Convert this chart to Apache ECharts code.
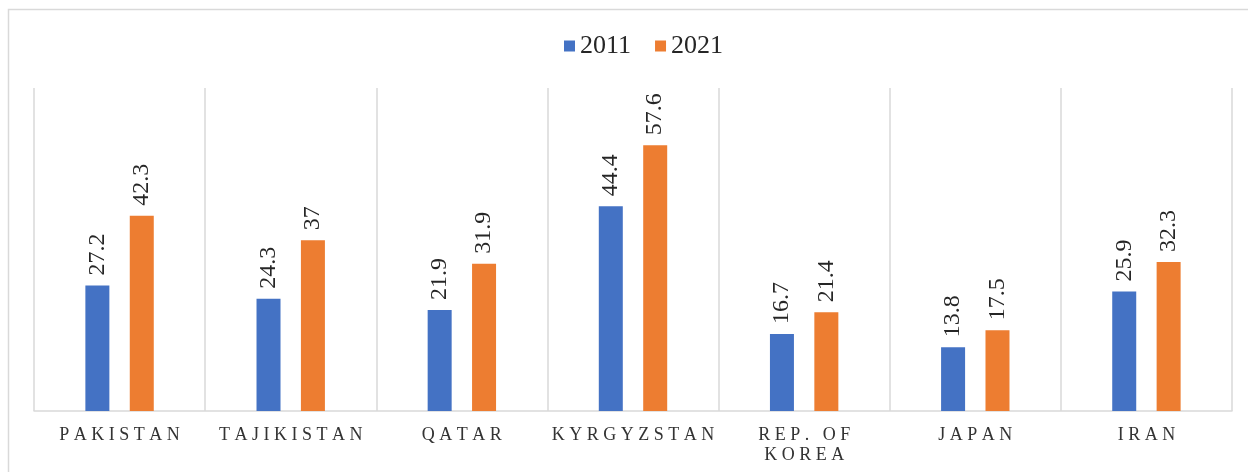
<!DOCTYPE html>
<html>
<head>
<meta charset="utf-8">
<script src="https://cdn.jsdelivr.net/npm/echarts@6/dist/echarts.min.js"></script>
<style>
html,body{margin:0;padding:0;background:#fff;}
#chart{width:1248px;height:472px;}
</style>
</head>
<body>
<div id="chart"></div>
<script>
const categories = ['PAKISTAN', 'TAJIKISTAN', 'QATAR', 'KYRGYZSTAN', 'REP. OF\nKOREA', 'JAPAN', 'IRAN'];
const seriesNames = ['2011', '2021'];
const values2011 = [27.2, 24.3, 21.9, 44.4, 16.7, 13.8, 25.9];
const values2021 = [42.3, 37, 31.9, 57.6, 21.4, 17.5, 32.3];

const FONT = '"Liberation Serif", "Times New Roman", serif';

function spaced(s) {
  return s.split('\n').map(line =>
    line.split(' ').map(w => w.split('').join(' ')).join('   ')
  ).join('\n');
}

const chart = echarts.init(document.getElementById('chart'));
const labelStyle = {
  show: true,
  position: 'top',
  rotate: 90,
  align: 'left',
  verticalAlign: 'middle',
  distance: 10,
  fontFamily: FONT,
  fontSize: 24,
  color: '#262626'
};
chart.setOption({
  animation: false,
  graphic: [{
    type: 'rect',
    shape: { x: 8.5, y: 9.5, width: 1260, height: 500 },
    style: { fill: 'none', stroke: '#d9d9d9', lineWidth: 1.5 },
    silent: true
  }],
  legend: {
    data: seriesNames,
    top: 28,
    left: 559,
    itemWidth: 11,
    itemHeight: 11,
    itemGap: 24,
    icon: 'rect',
    textStyle: { fontFamily: FONT, fontSize: 26, color: '#262626' }
  },
  grid: { left: 34, right: 16, top: 88, bottom: 61, containLabel: false },
  xAxis: {
    type: 'category',
    data: categories,
    axisLine: { show: true, lineStyle: { color: '#d9d9d9', width: 1.5 } },
    axisTick: { show: false },
    splitLine: { show: true, lineStyle: { color: '#d9d9d9', width: 1.5 } },
    axisLabel: {
      interval: 0,
      margin: 14,
      fontFamily: FONT,
      fontSize: 18,
      lineHeight: 20,
      color: '#333',
      formatter: v => spaced(v)
    }
  },
  yAxis: {
    type: 'value',
    min: 0,
    max: 70,
    show: false,
    splitLine: { show: false }
  },
  series: [
    {
      name: seriesNames[0],
      type: 'bar',
      data: values2011,
      barWidth: 24,
      barGap: '85%',
      itemStyle: { color: '#4472C4' },
      label: labelStyle
    },
    {
      name: seriesNames[1],
      type: 'bar',
      data: values2021,
      barWidth: 24,
      barGap: '85%',
      itemStyle: { color: '#ED7D31' },
      label: labelStyle
    }
  ]
});
</script>
</body>
</html>
